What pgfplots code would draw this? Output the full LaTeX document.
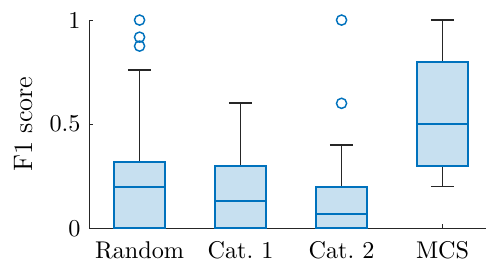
\documentclass[border=0pt]{standalone}
\usepackage{pgfplots}
\pgfplotsset{compat=1.18}
\usepgfplotslibrary{statistics}
\definecolor{mblue}{HTML}{0072BD}
\definecolor{mgray}{HTML}{262626}
\begin{document}
\begin{tikzpicture}
\begin{axis}[
 scale only axis, width=164pt, height=86pt,
 xmin=0.5, xmax=4.43, ymin=0, ymax=1,
 axis lines*=left, axis line style={mgray, line width=0.4pt},
 xtick={1,2,3,4}, xticklabels={Random, Cat.~1, Cat.~2, MCS},
 ytick={0,0.5,1}, yticklabels={0,0.5,1},
 tick align=inside, major tick length=1.7pt, tick style={mgray, line width=0.4pt},
 tick label style={font=\fontsize{10}{12}\selectfont},
 xticklabel style={yshift=-2.1pt},
 ylabel={F1 score},
 every axis y label/.style={at={(rel axis cs:0,0.5)}, xshift=-26.9pt, rotate=90, anchor=center, font=\fontsize{11}{13}\selectfont},
 clip=false,
 boxplot/draw direction=y,
 boxplot/box extend=0.5, boxplot/whisker extend=0.23,
 boxplot/every box/.style={draw=mblue, fill=mblue!22, line width=0.8pt},
 boxplot/every whisker/.style={draw=mgray, line width=0.7pt},
 boxplot/every median/.style={draw=mblue, line width=0.8pt},
]
\addplot[mblue, mark=o, mark size=2.1pt, mark options={solid, line width=0.6pt},
 boxplot prepared={draw position=1, lower whisker=0, lower quartile=0, median=0.2, upper quartile=0.32, upper whisker=0.76}]
 table[row sep=\\, y index=0] {1\\0.918\\0.875\\};
\addplot[mblue, mark=o, mark size=2.1pt, mark options={solid, line width=0.6pt},
 boxplot prepared={draw position=2, lower whisker=0, lower quartile=0, median=0.13, upper quartile=0.3, upper whisker=0.6}]
 coordinates {};
\addplot[mblue, mark=o, mark size=2.1pt, mark options={solid, line width=0.6pt},
 boxplot prepared={draw position=3, lower whisker=0, lower quartile=0, median=0.07, upper quartile=0.2, upper whisker=0.4}]
 table[row sep=\\, y index=0] {1\\0.6\\};
\addplot[mblue, mark=o, mark size=2.1pt, mark options={solid, line width=0.6pt},
 boxplot prepared={draw position=4, lower whisker=0.2, lower quartile=0.3, median=0.5, upper quartile=0.8, upper whisker=1}]
 coordinates {};
\end{axis}
\pgfresetboundingbox
\path (current axis.south west) ++(-36.8pt,-14.5pt) coordinate (bbA);
\path (current axis.north east) ++(0pt,8.3pt) coordinate (bbB);
\useasboundingbox (bbA) rectangle (bbB);
\end{tikzpicture}
\end{document}
